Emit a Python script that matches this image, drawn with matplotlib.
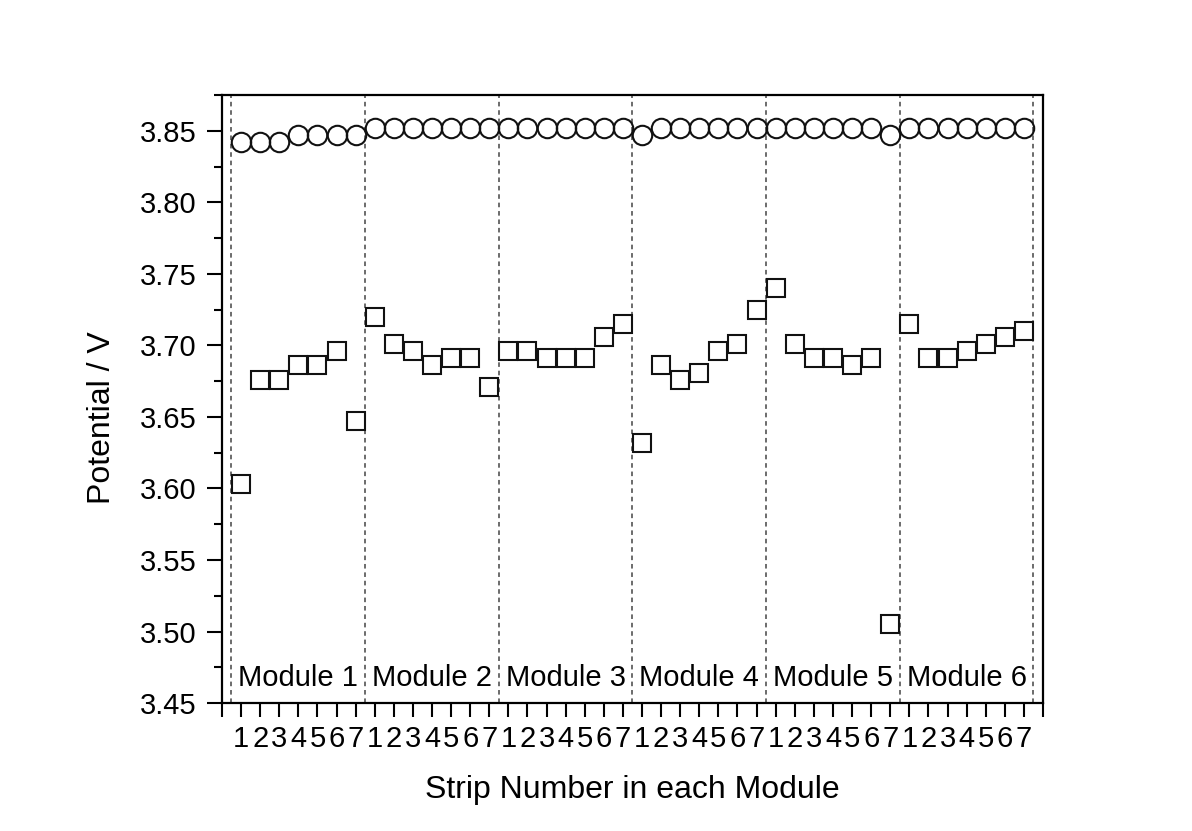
import numpy as np
import matplotlib.pyplot as plt
from matplotlib.ticker import MultipleLocator, FixedLocator, FixedFormatter

plt.rcParams['font.family'] = ['Liberation Sans', 'DejaVu Sans']

# Strip potentials, 6 modules x 7 strips
modules = ['Module 1', 'Module 2', 'Module 3', 'Module 4', 'Module 5', 'Module 6']
strips_per_module = 7

circle_v = [3.842, 3.842, 3.842, 3.847, 3.847, 3.847, 3.847,
            3.852, 3.852, 3.852, 3.852, 3.852, 3.852, 3.852,
            3.852, 3.852, 3.852, 3.852, 3.852, 3.852, 3.852,
            3.847, 3.852, 3.852, 3.852, 3.852, 3.852, 3.852,
            3.852, 3.852, 3.852, 3.852, 3.852, 3.852, 3.847,
            3.852, 3.852, 3.852, 3.852, 3.852, 3.852, 3.852]

square_v = [3.603, 3.676, 3.676, 3.686, 3.686, 3.696, 3.647,
            3.720, 3.701, 3.696, 3.686, 3.691, 3.691, 3.671,
            3.696, 3.696, 3.691, 3.691, 3.691, 3.706, 3.715,
            3.632, 3.686, 3.676, 3.681, 3.696, 3.701, 3.725,
            3.740, 3.701, 3.691, 3.691, 3.686, 3.691, 3.505,
            3.715, 3.691, 3.691, 3.696, 3.701, 3.706, 3.710]

n = len(modules) * strips_per_module
x = np.arange(1, n + 1)

fig = plt.figure(figsize=(11.92, 8.31), dpi=100)
ax = fig.add_axes([0.1862, 0.154, 0.6888, 0.7316])

# module separators
for k in range(len(modules) + 1):
    ax.axvline(k * strips_per_module + 0.5, color='#444444', lw=1.1,
               ls=(0, (3, 2.5)), zorder=1)

ax.plot(x, circle_v, 'o', ms=14, mfc='none', mec='#111111', mew=1.5, zorder=3)
ax.plot(x, square_v, 's', ms=12.5, mfc='none', mec='#111111', mew=1.5, zorder=3)

for k, name in enumerate(modules):
    ax.text(k * strips_per_module + 4, 3.462, name, ha='center', va='baseline',
            fontsize=21)

ax.set_xlim(0, n + 1)
ax.set_ylim(3.45, 3.875)

ax.yaxis.set_major_locator(FixedLocator(np.arange(3.45, 3.851, 0.05)))
ax.yaxis.set_minor_locator(MultipleLocator(0.025))
ax.yaxis.set_major_formatter(plt.FormatStrFormatter('%.2f'))

ax.xaxis.set_major_locator(FixedLocator(np.arange(0, n + 2)))
xlabels = [''] + [str(i % strips_per_module + 1) for i in range(n)] + ['']
ax.xaxis.set_major_formatter(FixedFormatter(xlabels))

ax.tick_params(axis='y', which='major', direction='out', length=11, width=1.5,
               labelsize=21, pad=7, right=False)
ax.tick_params(axis='y', which='minor', direction='out', length=6, width=1.5,
               right=False)
ax.tick_params(axis='x', which='major', direction='out', length=10, width=1.5,
               labelsize=21, pad=6, top=False)

for s in ax.spines.values():
    s.set_linewidth(1.6)

ax.set_ylabel('Potential / V', fontsize=23)
ax.yaxis.set_label_coords(-0.128, 0.47)
ax.set_xlabel('Strip Number in each Module', fontsize=23, labelpad=16)

fig.savefig('out.png', dpi=100)
